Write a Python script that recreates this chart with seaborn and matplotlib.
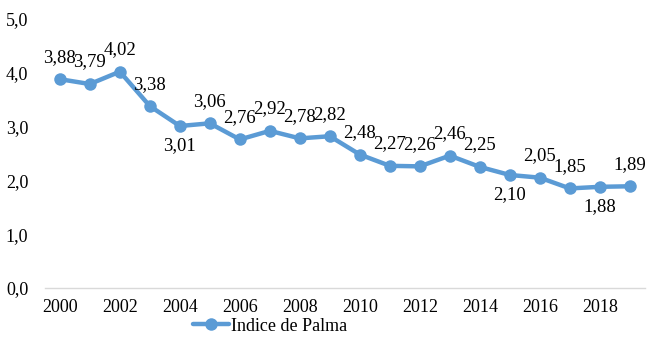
import numpy as np
import pandas as pd
import seaborn as sns
import matplotlib.pyplot as plt

years = list(range(2000, 2020))
palma = [3.88, 3.79, 4.02, 3.38, 3.01, 3.06, 2.76, 2.92, 2.78, 2.82,
         2.48, 2.27, 2.26, 2.46, 2.25, 2.10, 2.05, 1.85, 1.88, 1.89]
serie = 'Indice de Palma'

df = pd.DataFrame({'Ano': years, 'Valor': palma})

sns.set_style('white')
plt.rcParams['font.family'] = ['Liberation Serif', 'DejaVu Serif']

fig = plt.figure(figsize=(6.5, 3.38), dpi=100)
ax = fig.add_axes([0.069, 0.148, 0.923, 0.796])

blue = '#5B9BD5'
sns.lineplot(data=df, x='Ano', y='Valor', ax=ax, color=blue, linewidth=3.2,
             marker='o', markersize=9, markeredgewidth=0, label=serie)

# rotulos: a maioria acima do ponto, alguns abaixo
below = {2004, 2015, 2018}
for x, y in zip(years, palma):
    lbl = f'{y:.2f}'.replace('.', ',')
    dy = -20 if x in below else 22
    ax.annotate(lbl, (x, y), xytext=(0, dy), textcoords='offset pixels',
                ha='center', va='center', fontsize=13.5, color='black')

ax.set_xlim(1999.5, 2019.5)
ax.set_ylim(0, 5)
ax.set_xticks(range(2000, 2019, 2))
ax.set_yticks(np.arange(0, 5.1, 1))
ax.set_yticklabels([f'{v:.1f}'.replace('.', ',') for v in np.arange(0, 5.1, 1)])
ax.tick_params(axis='both', length=0, labelsize=13, colors='black')
ax.tick_params(axis='y', pad=12)
ax.tick_params(axis='x', pad=8)
ax.set_xlabel('')
ax.set_ylabel('')
for s in ['top', 'right', 'left']:
    ax.spines[s].set_visible(False)
ax.spines['bottom'].set_color('#D9D9D9')
ax.spines['bottom'].set_linewidth(1)

ax.legend(loc='center', bbox_to_anchor=(0.415, 0.035), bbox_transform=fig.transFigure,
          frameon=False, fontsize=13, handlelength=2.0, handletextpad=0.1,
          borderpad=0, labelcolor='black')

fig.savefig('out.png', dpi=100)
